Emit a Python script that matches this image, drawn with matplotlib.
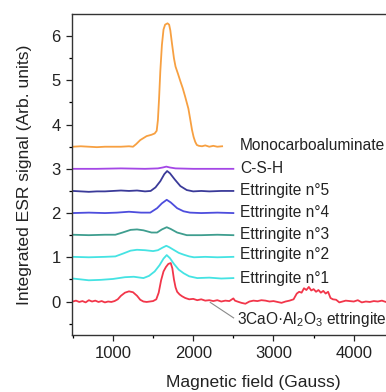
import numpy as np
import matplotlib.pyplot as plt

# ---------------------------------------------------------
# Data (field in Gauss, signal offset)
# ---------------------------------------------------------
mono_x = [500, 600, 700, 800, 900, 1000, 1100, 1200, 1250, 1290, 1340, 1420, 1480, 1520,
          1545, 1560, 1575, 1590, 1610, 1630, 1650, 1680, 1700, 1715, 1735, 1760, 1780,
          1810, 1840, 1870, 1900, 1940, 1960, 1985, 2005, 2025, 2045, 2070, 2110, 2150,
          2200, 2250, 2300, 2360]
mono_y = [3.50, 3.51, 3.50, 3.49, 3.50, 3.50, 3.50, 3.51, 3.50, 3.56, 3.65, 3.74, 3.77, 3.80,
          3.86, 4.10, 4.60, 5.20, 5.80, 6.15, 6.26, 6.29, 6.26, 6.13, 5.84, 5.50, 5.31,
          5.15, 4.98, 4.82, 4.63, 4.36, 4.15, 3.88, 3.72, 3.61, 3.54, 3.52, 3.51, 3.53,
          3.50, 3.52, 3.50, 3.51]

csh_x = [500, 800, 1100, 1400, 1560, 1620, 1665, 1710, 1780, 2000, 2300, 2500]
csh_y = [3.00, 3.00, 3.01, 3.00, 3.01, 3.03, 3.05, 3.03, 3.01, 3.00, 3.00, 3.00]

e5_x = [500, 600, 700, 800, 900, 1000, 1100, 1200, 1300, 1400, 1470, 1530, 1590, 1640,
        1675, 1710, 1770, 1840, 1920, 2000, 2100, 2200, 2350, 2500]
e5_y = [2.50, 2.49, 2.48, 2.49, 2.49, 2.50, 2.51, 2.50, 2.51, 2.49, 2.50, 2.58, 2.72, 2.88,
        2.95, 2.90, 2.76, 2.61, 2.52, 2.49, 2.50, 2.49, 2.50, 2.50]

e4_x = [500, 700, 900, 1050, 1200, 1350, 1465, 1550, 1610, 1670, 1720, 1800, 1880, 1960,
        2100, 2300, 2500]
e4_y = [2.00, 2.01, 2.00, 2.01, 2.03, 2.01, 2.01, 2.11, 2.22, 2.30, 2.24, 2.11, 2.04, 2.01,
        2.00, 2.01, 2.00]

e3_x = [500, 700, 900, 1030, 1120, 1220, 1300, 1380, 1480, 1550, 1610, 1670, 1720, 1800,
        1920, 2100, 2300, 2500]
e3_y = [1.51, 1.50, 1.51, 1.51, 1.56, 1.62, 1.63, 1.61, 1.56, 1.56, 1.63, 1.68, 1.64, 1.56,
        1.50, 1.50, 1.51, 1.50]

e2_x = [500, 700, 900, 1030, 1120, 1220, 1300, 1400, 1500, 1560, 1620, 1665, 1700, 1755,
        1820, 1880, 1950, 2010, 2150, 2300, 2500]
e2_y = [1.01, 1.00, 1.01, 1.02, 1.08, 1.15, 1.17, 1.16, 1.14, 1.16, 1.22, 1.26, 1.23, 1.17,
        1.10, 1.06, 1.02, 1.00, 1.01, 1.00, 1.01]

e1_x = [500, 600, 700, 850, 1000, 1150, 1260, 1380, 1450, 1520, 1580, 1630, 1670, 1710,
        1760, 1820, 1880, 1950, 2050, 2200, 2350, 2500]
e1_y = [0.52, 0.50, 0.48, 0.49, 0.51, 0.55, 0.56, 0.53, 0.58, 0.68, 0.82, 0.97, 1.05, 0.98,
        0.85, 0.72, 0.64, 0.57, 0.53, 0.54, 0.52, 0.53]

c3a_x = [500, 540, 580, 620, 660, 700, 740, 780, 820, 860, 900, 940, 980, 1020, 1060, 1100,
         1150, 1200, 1250, 1300, 1340, 1380, 1420, 1460, 1500, 1540, 1570, 1600, 1630, 1660,
         1690, 1720, 1740, 1760, 1780, 1800, 1830, 1860, 1900, 1950, 2000, 2050, 2100, 2150,
         2200, 2250, 2300, 2350, 2400, 2450, 2500, 2520, 2550, 2600, 2650, 2700, 2750, 2800,
         2850, 2900, 2950, 3000, 3050, 3100, 3150, 3200, 3250, 3290, 3320, 3350, 3380, 3410,
         3440, 3470, 3500, 3530, 3560, 3590, 3620, 3650, 3680, 3710, 3740, 3780, 3820, 3860,
         3900, 3950, 4000, 4050, 4100, 4150, 4200, 4250, 4300, 4350, 4400, 4450, 4500]
c3a_y = [0.00, 0.02, -0.01, 0.01, -0.02, 0.03, 0.00, 0.02, -0.01, 0.01, -0.02, 0.00, -0.01,
         0.01, 0.05, 0.13, 0.20, 0.23, 0.21, 0.13, 0.04, 0.00, -0.01, 0.00, 0.01, 0.05, 0.20,
         0.48, 0.68, 0.78, 0.85, 0.87, 0.75, 0.50, 0.32, 0.22, 0.16, 0.12, 0.08, 0.05, 0.06,
         0.03, 0.05, 0.02, 0.03, 0.01, 0.03, 0.00, 0.02, 0.01, 0.07, 0.02, 0.00, -0.03, -0.05,
         0.00, 0.02, 0.01, 0.03, 0.02, 0.00, 0.01, -0.01, -0.03, 0.00, 0.02, 0.05, 0.18, 0.22,
         0.20, 0.30, 0.26, 0.33, 0.25, 0.28, 0.22, 0.26, 0.20, 0.24, 0.18, 0.22, 0.08, 0.05,
         0.04, -0.02, 0.00, 0.02, 0.01, 0.00, 0.03, -0.02, 0.00, -0.01, 0.01, 0.00, 0.02,
         -0.01, 0.00, 0.01]

series = [
    (mono_x, mono_y, "#f7a041"),
    (csh_x, csh_y, "#a447e6"),
    (e5_x, e5_y, "#3a3a99"),
    (e4_x, e4_y, "#4d4ddd"),
    (e3_x, e3_y, "#3f9e8f"),
    (e2_x, e2_y, "#45e3e3"),
    (e1_x, e1_y, "#45e3e3"),
    (c3a_x, c3a_y, "#f2364a"),
]

label_names = ["Monocarboaluminate", "C-S-H", "Ettringite n°5", "Ettringite n°4",
               "Ettringite n°3", "Ettringite n°2", "Ettringite n°1"]
label_y = [3.53, 3.0, 2.5, 2.01, 1.52, 1.07, 0.51]

# =========================================================
plt.rcParams['font.family'] = ['Liberation Sans', 'DejaVu Sans']
plt.rcParams['mathtext.fontset'] = 'custom'
plt.rcParams['mathtext.rm'] = 'Liberation Sans'
plt.rcParams['mathtext.it'] = 'Liberation Sans:italic'

fig = plt.figure(figsize=(3.86, 3.92), dpi=100)
# axes runs past the right edge of the figure, like the cropped original
ax = fig.add_axes([0.1865, 0.1462, 0.938, 0.818])

for x, y, c in series:
    ax.plot(x, y, color=c, lw=1.3)

ax.set_xlim(490, 5000)
ax.set_ylim(-0.75, 6.5)
ax.set_xticks([1000, 2000, 3000, 4000])
ax.set_xticks([500, 1500, 2500, 3500, 4500], minor=True)
ax.set_yticks(np.arange(0, 7, 1))
ax.set_yticks(np.arange(-0.5, 6.5, 1), minor=True)

ax.tick_params(which='major', length=4.2, width=0.9, direction='out', labelsize=12,
               pad=4, colors='#222222')
ax.tick_params(which='minor', length=2.5, width=0.9, direction='out')
for spine in ax.spines.values():
    spine.set_linewidth(1.0)
    spine.set_color('#333333')

ax.set_xlabel("Magnetic field (Gauss)", fontsize=12.6, labelpad=10, color='#222222')
ax.set_ylabel("Integrated ESR signal (Arb. units)", fontsize=12.6, labelpad=14,
              color='#222222')

for name, yy in zip(label_names, label_y):
    ax.text(2580, yy, name, fontsize=11.2, ha='left', va='center', color='#222222')

ax.plot([2212, 2503], [-0.02, -0.37], color='#8a8a8a', lw=0.8)
ax.text(2545, -0.41, "3CaO·Al$_2$O$_3$ ettringite", fontsize=11.2, ha='left',
        va='center', color='#222222')

fig.savefig("out.png", dpi=100)
